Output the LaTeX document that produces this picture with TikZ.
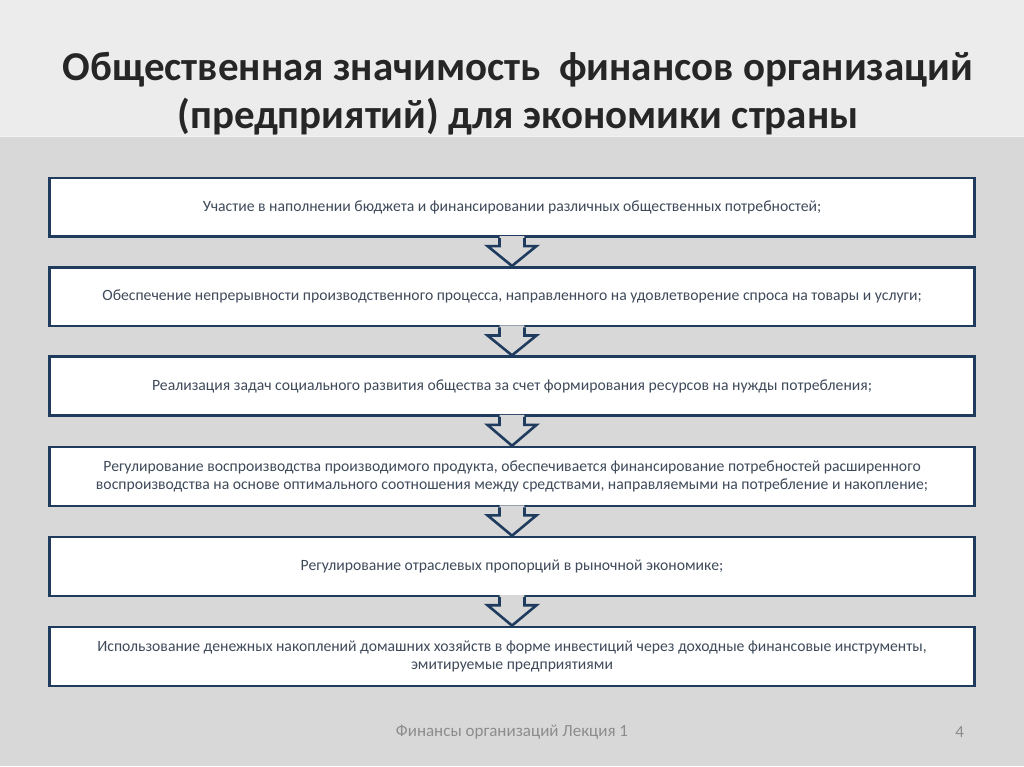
\documentclass[tikz,border=0pt]{standalone}
\usepackage{fontspec}
\setmainfont{Carlito}
\begin{document}
\begin{tikzpicture}[x=1pt,y=-1pt,
  box/.style={draw=navy,line width=2.6pt,fill=white,minimum width=926pt,minimum height=59pt,align=center,font=\fontsize{15.7}{18}\selectfont,text=txt,inner sep=0pt},
  arrowfill/.style={fill=bg},
  arrowline/.style={draw=navy,line width=2.6pt,line join=miter}]
\definecolor{navy}{HTML}{1F3B5E}
\definecolor{bg}{HTML}{D8D8D8}
\definecolor{txt}{HTML}{3F4A5A}
\fill[bg] (0,0) rectangle (1024,767);
\fill[white!50!bg] (0,0) rectangle (1024,137);
\draw[white!70!bg,line width=1pt] (0,137) -- (1024,137);
\node[font=\fontsize{41}{48}\selectfont\bfseries,text=black!85,align=center] (title) at (518,94) {Общественная значимость \ финансов организаций\\(предприятий) для экономики страны};
\node[box] (b1) at (512,207.5) {Участие в наполнении бюджета и финансировании различных общественных потребностей;};
\node[box] (b2) at (512,297) {Обеспечение непрерывности производственного процесса, направленного на удовлетворение спроса на товары и услуги;};
\node[box] (b3) at (512,386.5) {Реализация задач социального развития общества за счет формирования ресурсов на нужды потребления;};
\node[box] (b4) at (512,477) {Регулирование воспроизводства производимого продукта, обеспечивается финансирование потребностей расширенного\\воспроизводства на основе оптимального соотношения между средствами, направляемыми на потребление и накопление;};
\node[box] (b5) at (512,567) {Регулирование отраслевых пропорций в рыночной экономике;};
\node[box] (b6) at (512,657) {Использование денежных накоплений домашних хозяйств в форме инвестиций через доходные финансовые инструменты,\\эмитируемые предприятиями};
\foreach \a/\b in {b1/b2,b2/b3,b3/b4,b4/b5,b5/b6}{
  \coordinate (s) at (\a.south);
  \coordinate (t) at (\b.north);
  \fill[arrowfill] ([xshift=-12.5pt,yshift=2pt]s) -- ([xshift=-12.5pt,yshift=-8pt]s) -- ([xshift=-24.5pt,yshift=-8pt]s) -- (t) -- ([xshift=24.5pt,yshift=-8pt]s) -- ([xshift=12.5pt,yshift=-8pt]s) -- ([xshift=12.5pt,yshift=2pt]s) -- cycle;
  \draw[arrowline] ([xshift=-12.5pt]s) -- ([xshift=-12.5pt,yshift=-8pt]s) -- ([xshift=-24.5pt,yshift=-8pt]s) -- (t) -- ([xshift=24.5pt,yshift=-8pt]s) -- ([xshift=12.5pt,yshift=-8pt]s) -- ([xshift=12.5pt]s);
}
\node[font=\fontsize{17}{20}\selectfont,text=black!45] (foot) at (512,733) {Финансы организаций Лекция 1};
\node[font=\fontsize{17}{20}\selectfont,text=black!45] (num) at (960,733) {4};
\end{tikzpicture}
\end{document}
